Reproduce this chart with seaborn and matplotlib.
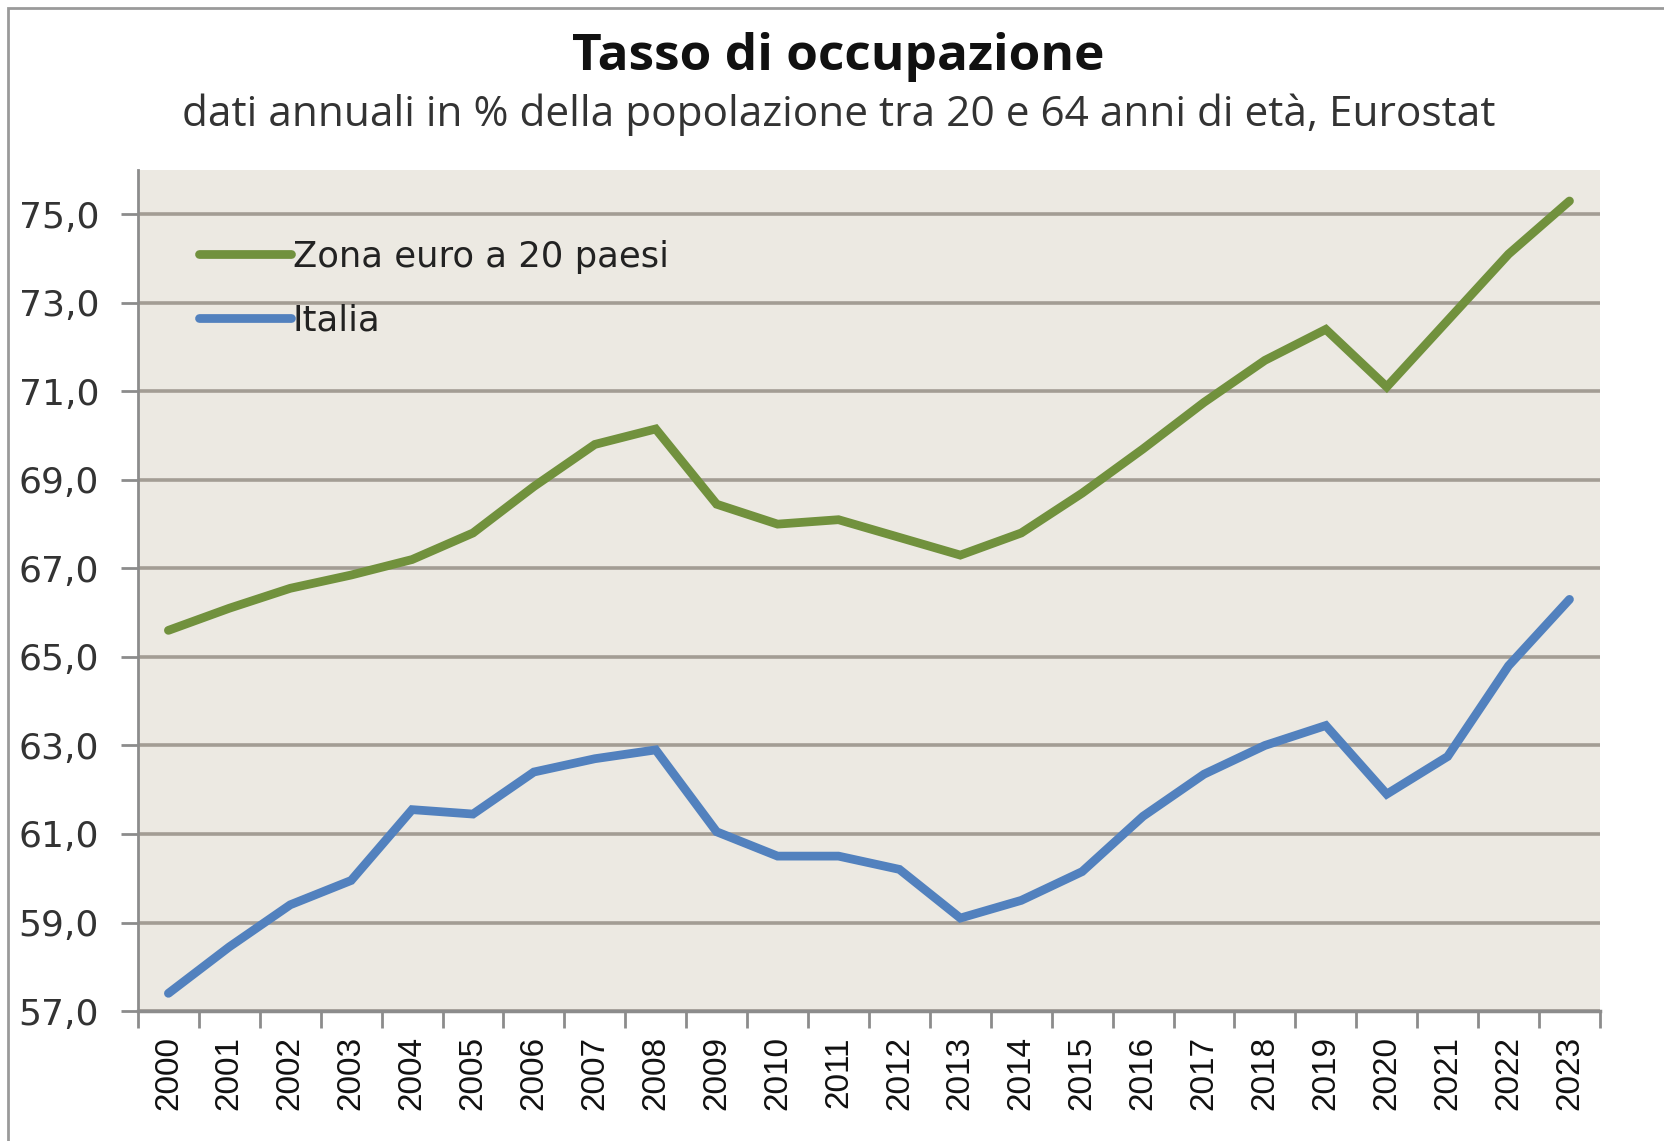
import matplotlib
matplotlib.use("Agg")
import matplotlib.pyplot as plt
import seaborn as sns
import pandas as pd
import numpy as np
from matplotlib.ticker import FixedLocator, FuncFormatter
from matplotlib.patches import Rectangle

years = [str(y) for y in range(2000, 2024)]
zona_euro = [65.6, 66.1, 66.55, 66.85, 67.2, 67.8, 68.85, 69.8, 70.15, 68.45, 68.0, 68.1,
             67.7, 67.3, 67.8, 68.7, 69.7, 70.75, 71.7, 72.4, 71.1, 72.6, 74.1, 75.3]
italia = [57.4, 58.45, 59.4, 59.95, 61.55, 61.45, 62.4, 62.7, 62.9, 61.05, 60.5, 60.5,
          60.2, 59.1, 59.5, 60.15, 61.4, 62.35, 63.0, 63.45, 61.9, 62.75, 64.8, 66.3]
series_names = ["Zona euro a 20 paesi", "Italia"]
y_ticks = [57, 59, 61, 63, 65, 67, 69, 71, 73, 75]
title = "Tasso di occupazione"
subtitle = "dati annuali in % della popolazione tra 20 e 64 anni di età, Eurostat"

df = pd.DataFrame({
    "anno": years * 2,
    "valore": zona_euro + italia,
    "serie": [series_names[0]] * len(years) + [series_names[1]] * len(years),
})

sns.set_theme(style="white")
plt.rcParams["font.family"] = ["DejaVu Sans"]

fig = plt.figure(figsize=(16.64, 11.41), dpi=100)
fig.patch.set_facecolor("white")
ax = fig.add_axes([0.0829, 0.1139, 0.8786, 0.7371])
ax.set_facecolor("#ECE9E2")

palette = {series_names[0]: "#71913D", series_names[1]: "#5281BE"}
sns.lineplot(data=df, x="anno", y="valore", hue="serie", palette=palette,
             linewidth=6.3, ax=ax, sort=False, solid_joinstyle="miter")

ax.set_xlim(-0.5, len(years) - 0.5)
ax.set_ylim(57, 76)
ax.set_yticks(y_ticks)
ax.yaxis.set_major_formatter(FuncFormatter(lambda v, p: f"{v:.1f}".replace(".", ",")))
for t in y_ticks:
    ax.axhline(t, color="#A39D94", lw=2.6, zorder=0.5)

ax.set_xticks(range(len(years)))
ax.set_xticklabels(years, rotation=90, fontfamily="Liberation Sans", fontsize=24)
ax.xaxis.set_minor_locator(FixedLocator(np.arange(-0.5, len(years), 1.0)))
ax.tick_params(axis="x", which="major", length=0, pad=18, colors="#111111")
ax.tick_params(axis="x", which="minor", length=12, width=2, color="#8C8C8C", bottom=True)
ax.tick_params(axis="y", which="major", length=12, width=2, color="#8C8C8C",
               labelsize=26, pad=16, labelcolor="#333333", left=True)
for lbl in ax.get_yticklabels():
    lbl.set_fontfamily("DejaVu Sans")

for s in ["top", "right"]:
    ax.spines[s].set_visible(False)
ax.spines["left"].set_color("#8C8C8C")
ax.spines["left"].set_linewidth(2)
ax.spines["bottom"].set_color("#8C8C8C")
ax.spines["bottom"].set_linewidth(2.5)
ax.set_xlabel("")
ax.set_ylabel("")

leg = ax.legend(loc="upper left", bbox_to_anchor=(0.02, 0.955), frameon=False,
                fontsize=25.5, handlelength=2.6, handletextpad=0.05, labelspacing=0.85)
for txt in leg.get_texts():
    txt.set_color("#222222")

fig.text(0.504, 0.950, title, ha="center", va="center", fontsize=37,
         fontweight="bold", fontfamily="Open Sans", color="#111111")
fig.text(0.504, 0.899, subtitle, ha="center", va="center", fontsize=30.5,
         fontfamily="Open Sans", color="#333333")

fig.add_artist(Rectangle((0.005, -0.01), 1.2, 1.003, transform=fig.transFigure,
                         fill=False, edgecolor="#9A9A9A", lw=2))

fig.savefig("out.png", dpi=100)
